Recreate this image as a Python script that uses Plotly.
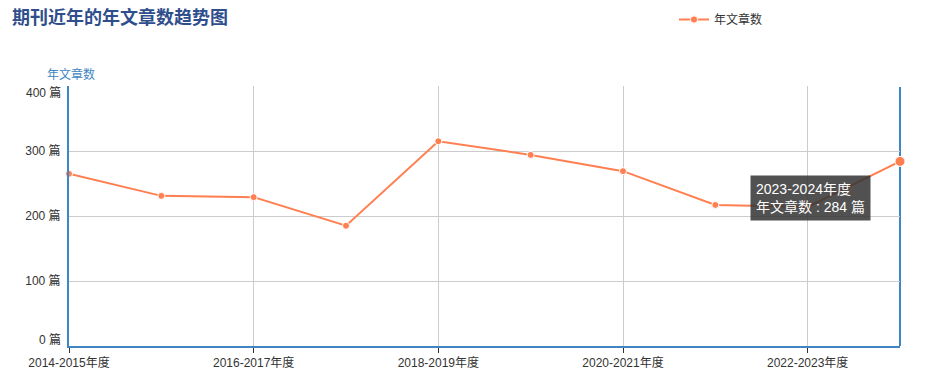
import plotly.graph_objects as go

categories = ["2014-2015年度", "2015-2016年度", "2016-2017年度", "2017-2018年度", "2018-2019年度",
              "2019-2020年度", "2020-2021年度", "2021-2022年度", "2022-2023年度", "2023-2024年度"]
articles = [265, 231, 229, 185, 315, 294, 269, 217, 214, 284]
series_name = "年文章数"
shown_ticks = categories[::2]
y_ticks = [0, 100, 200, 300, 400]
y_unit = " 篇"

W, H = 934, 387
L, R, T, B = 69, 34, 86, 41
PW, PH = W - L - R, H - T - B
blue = "#3f86c2"
coral = "#ff7f50"
font_family = "Liberation Sans, Noto Sans CJK SC, sans-serif"
cjk = "Noto Sans CJK SC, sans-serif"

sizes = [7] * (len(articles) - 1) + [10]


def px_x(p):
    return (p - L) / PW


def px_y(p):
    return (H - B - p) / PH


fig = go.Figure()
fig.add_trace(go.Scatter(
    x=categories, y=articles, name=series_name, mode="lines+markers",
    line=dict(color=coral, width=2), marker=dict(color=coral, size=sizes, opacity=1),
    cliponaxis=False,
    hovertemplate="%{x}<br>年文章数 : %{y} 篇<extra></extra>",
))

fig.update_layout(
    width=W, height=H,
    margin=dict(l=L, r=R, t=T, b=B, autoexpand=False),
    paper_bgcolor="white", plot_bgcolor="white",
    font=dict(family=font_family, size=12, color="#333"),
    title=dict(text="<b>期刊近年的年文章数趋势图</b>", xref="container", yref="container",
               x=12 / W, y=1 - 18 / H, xanchor="left", yanchor="middle",
               font=dict(size=18, color="#2f4e8c", family=cjk)),
    legend=dict(x=px_x(674), y=px_y(5), xanchor="left", yanchor="top",
                orientation="h", font=dict(size=12, color="#333", family=cjk),
                bgcolor="rgba(0,0,0,0)"),
    showlegend=True,
    xaxis=dict(type="category", categoryorder="array", categoryarray=categories,
               range=[0, len(categories) - 1],
               tickmode="array", tickvals=shown_ticks, ticktext=shown_ticks,
               showgrid=True, gridcolor="#cccccc", gridwidth=1,
               showline=True, linecolor=blue, linewidth=2,
               ticks="outside", ticklen=5, tickcolor="#333",
               tickfont=dict(size=12, color="#333"), zeroline=False),
    yaxis=dict(range=[y_ticks[0], y_ticks[-1]], tickmode="array",
               tickvals=y_ticks, ticktext=["" if v in (y_ticks[0], y_ticks[-1]) else f"{v}{y_unit}" for v in y_ticks],
               showgrid=True, gridcolor="#cccccc", gridwidth=1,
               showline=True, linecolor=blue, linewidth=2,
               ticks="outside", ticklen=4, tickcolor="rgba(0,0,0,0)",
               tickfont=dict(size=12, color="#333"), zeroline=False),
)

# end labels of the y axis, nudged inward
for v, shift in ((y_ticks[0], 7), (y_ticks[-1], -6)):
    fig.add_annotation(text=f"{v}{y_unit}", xref="paper", yref="y", x=0, y=v,
                       xanchor="right", yanchor="middle", xshift=-6, yshift=shift,
                       showarrow=False, font=dict(size=12, color="#333", family=font_family))

# right axis line
fig.add_shape(type="line", xref="paper", yref="paper", x0=1, x1=1, y0=0, y1=0.996,
              line=dict(color=blue, width=2), layer="below")

# y-axis name
fig.add_annotation(text=series_name, xref="paper", yref="paper",
                   x=px_x(45), y=px_y(74),
                   xanchor="left", yanchor="middle", showarrow=False,
                   font=dict(size=12, color=blue, family=cjk))

# tooltip
fig.add_annotation(text=f"{categories[-1]}<br>{series_name} : {articles[-1]} 篇",
                   xref="paper", yref="paper",
                   x=px_x(750), y=px_y(175),
                   xanchor="left", yanchor="top", showarrow=False, align="left",
                   bgcolor="rgba(50,50,50,0.85)", borderpad=5,
                   font=dict(size=14, color="white", family=font_family))

fig.write_html("out.html")
